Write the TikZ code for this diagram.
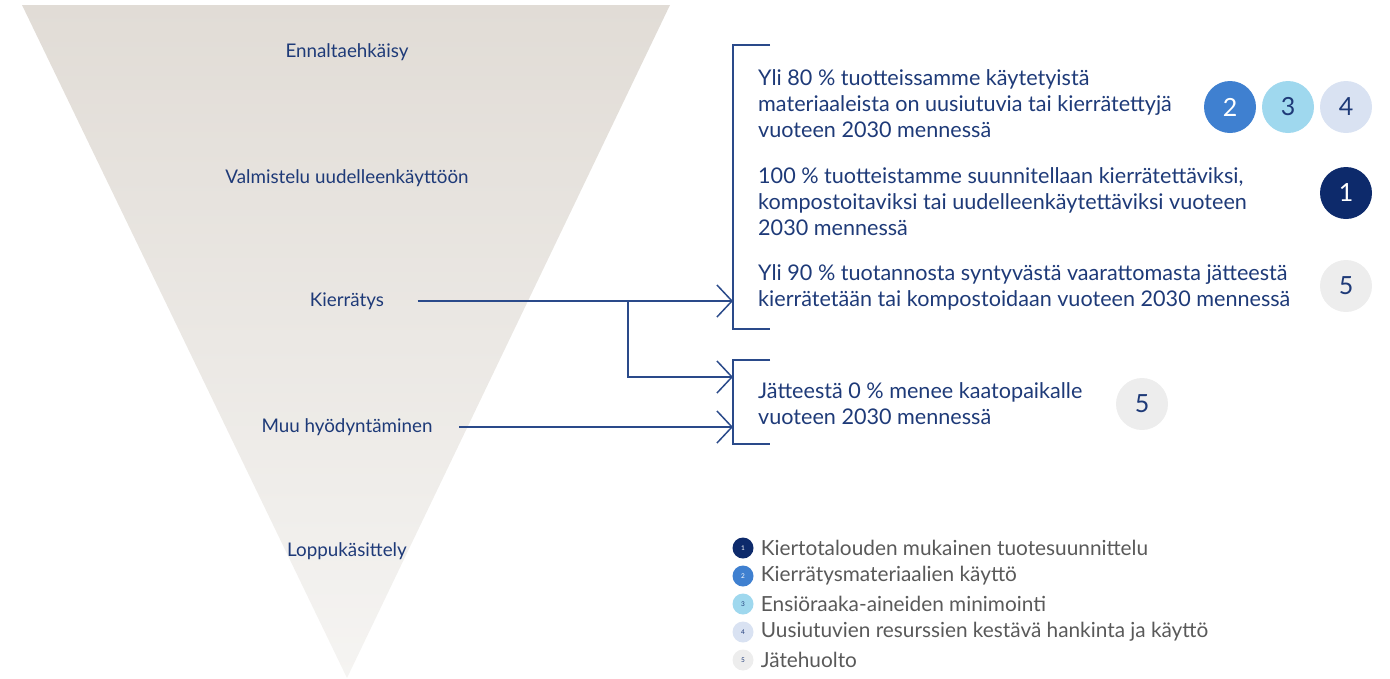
\documentclass[tikz,border=0pt]{standalone}
\usepackage{fontspec}
\setmainfont{Lato}
\usetikzlibrary{arrows.meta}
\definecolor{navy}{HTML}{1E3A78}
\definecolor{linkblue}{HTML}{2A4A8A}
\definecolor{legendgray}{HTML}{595959}
\definecolor{funneltop}{HTML}{E1DCD6}
\definecolor{funnelbottom}{HTML}{F5F4F2}
\definecolor{c1}{HTML}{0D2A6B}
\definecolor{c2}{HTML}{3F80D0}
\definecolor{c3}{HTML}{9FD8EE}
\definecolor{c4}{HTML}{D9E2F2}
\definecolor{c5}{HTML}{EDEDED}
\tikzset{>={Straight Barb[length=15pt,width=32pt]}}
\tikzset{
  level/.style={text=navy, font=\fontsize{18.8}{20}\selectfont},
  goal/.style={anchor=west, align=left, inner sep=0pt, text=navy, font=\fontsize{21.6}{26}\selectfont},
  badge/.style={circle, minimum size=52pt, inner sep=0pt, font=\fontsize{25}{25}\selectfont},
  dot/.style={circle, minimum size=21pt, inner sep=0pt, font=\fontsize{6.5}{6.5}\selectfont},
  legend/.style={anchor=west, inner sep=0pt, text=legendgray, font=\fontsize{20.8}{22}\selectfont},
  link/.style={draw=linkblue, line width=1.5pt, ->},
  bracket/.style={draw=linkblue, line width=1.5pt},
}

\begin{document}
\begin{tikzpicture}[x=1pt,y=-1pt]
\useasboundingbox (0,0) rectangle (1390,678);
% waste hierarchy funnel
\shade[top color=funneltop, bottom color=funnelbottom] (22,5) -- (670,5) -- (347,678) -- cycle;
\node[level] (prev) at (347,52) {Ennaltaehkäisy};
\node[level] (reuse) at (347,178) {Valmistelu uudelleenkäyttöön};
\node[level] (recy) at (347,301) {Kierrätys};
\node[level] (other) at (347,427) {Muu hyödyntäminen};
\node[level] (final) at (347,551) {Loppukäsittely};

% brackets
\draw[bracket] (770,45) -| (733,329) -- (770,329);
\draw[bracket] (770,360) -| (733,444) -- (770,444);
\coordinate (b1) at (733,301);
\coordinate (b2) at (733,377);
\coordinate (b3) at (733,427);
\coordinate (fork) at (628,301);

% connectors
\draw[link] ([xshift=30pt]recy.east) -- (b1);
\draw[link] (fork) |- (b2);
\draw[link] ([xshift=23pt]other.east) -- (b3);

% goals
\node[goal] (g1) at (758,104) {Yli 80 \% tuotteissamme käytetyistä\\materiaaleista on uusiutuvia tai kierrätettyjä\\vuoteen 2030 mennessä};
\node[goal] (g2) at (758,202) {100 \% tuotteistamme suunnitellaan kierrätettäviksi,\\kompostoitaviksi tai uudelleenkäytettäviksi vuoteen\\2030 mennessä};
\node[goal] (g3) at (758,287) {Yli 90 \% tuotannosta syntyvästä vaarattomasta jätteestä\\kierrätetään tai kompostoidaan vuoteen 2030 mennessä};
\node[goal] (g4) at (758,404) {Jätteestä 0 \% menee kaatopaikalle\\vuoteen 2030 mennessä};

% badges
\node[badge, fill=c2, text=white] (n2) at (1230,107) {2};
\node[badge, fill=c3, text=navy] (n3) at (1288,107) {3};
\node[badge, fill=c4, text=navy] (n4) at (1346,107) {4};
\node[badge, fill=c1, text=white] (n1) at (1346,193) {1};
\node[badge, fill=c5, text=navy] (n5) at (1346,286) {5};
\node[badge, fill=c5, text=navy] (n5b) at (1142,404) {5};

% legend
\node[dot, fill=c1, text=white] (d1) at (743,548) {1};
\node[dot, fill=c2, text=white] (d2) at (743,576) {2};
\node[dot, fill=c3, text=navy] (d3) at (743,604) {3};
\node[dot, fill=c4, text=navy] (d4) at (743,632) {4};
\node[dot, fill=c5, text=navy] (d5) at (743,660) {5};
\node[legend] (l1) at ([xshift=7pt]d1.east) {Kiertotalouden mukainen tuotesuunnittelu};
\node[legend] (l2) at ([xshift=7pt]d2.east) {Kierrätysmateriaalien käyttö};
\node[legend] (l3) at ([xshift=7pt]d3.east) {Ensiöraaka-aineiden minimointi};
\node[legend] (l4) at ([xshift=7pt]d4.east) {Uusiutuvien resurssien kestävä hankinta ja käyttö};
\node[legend] (l5) at ([xshift=7pt]d5.east) {Jätehuolto};
\end{tikzpicture}
\end{document}
